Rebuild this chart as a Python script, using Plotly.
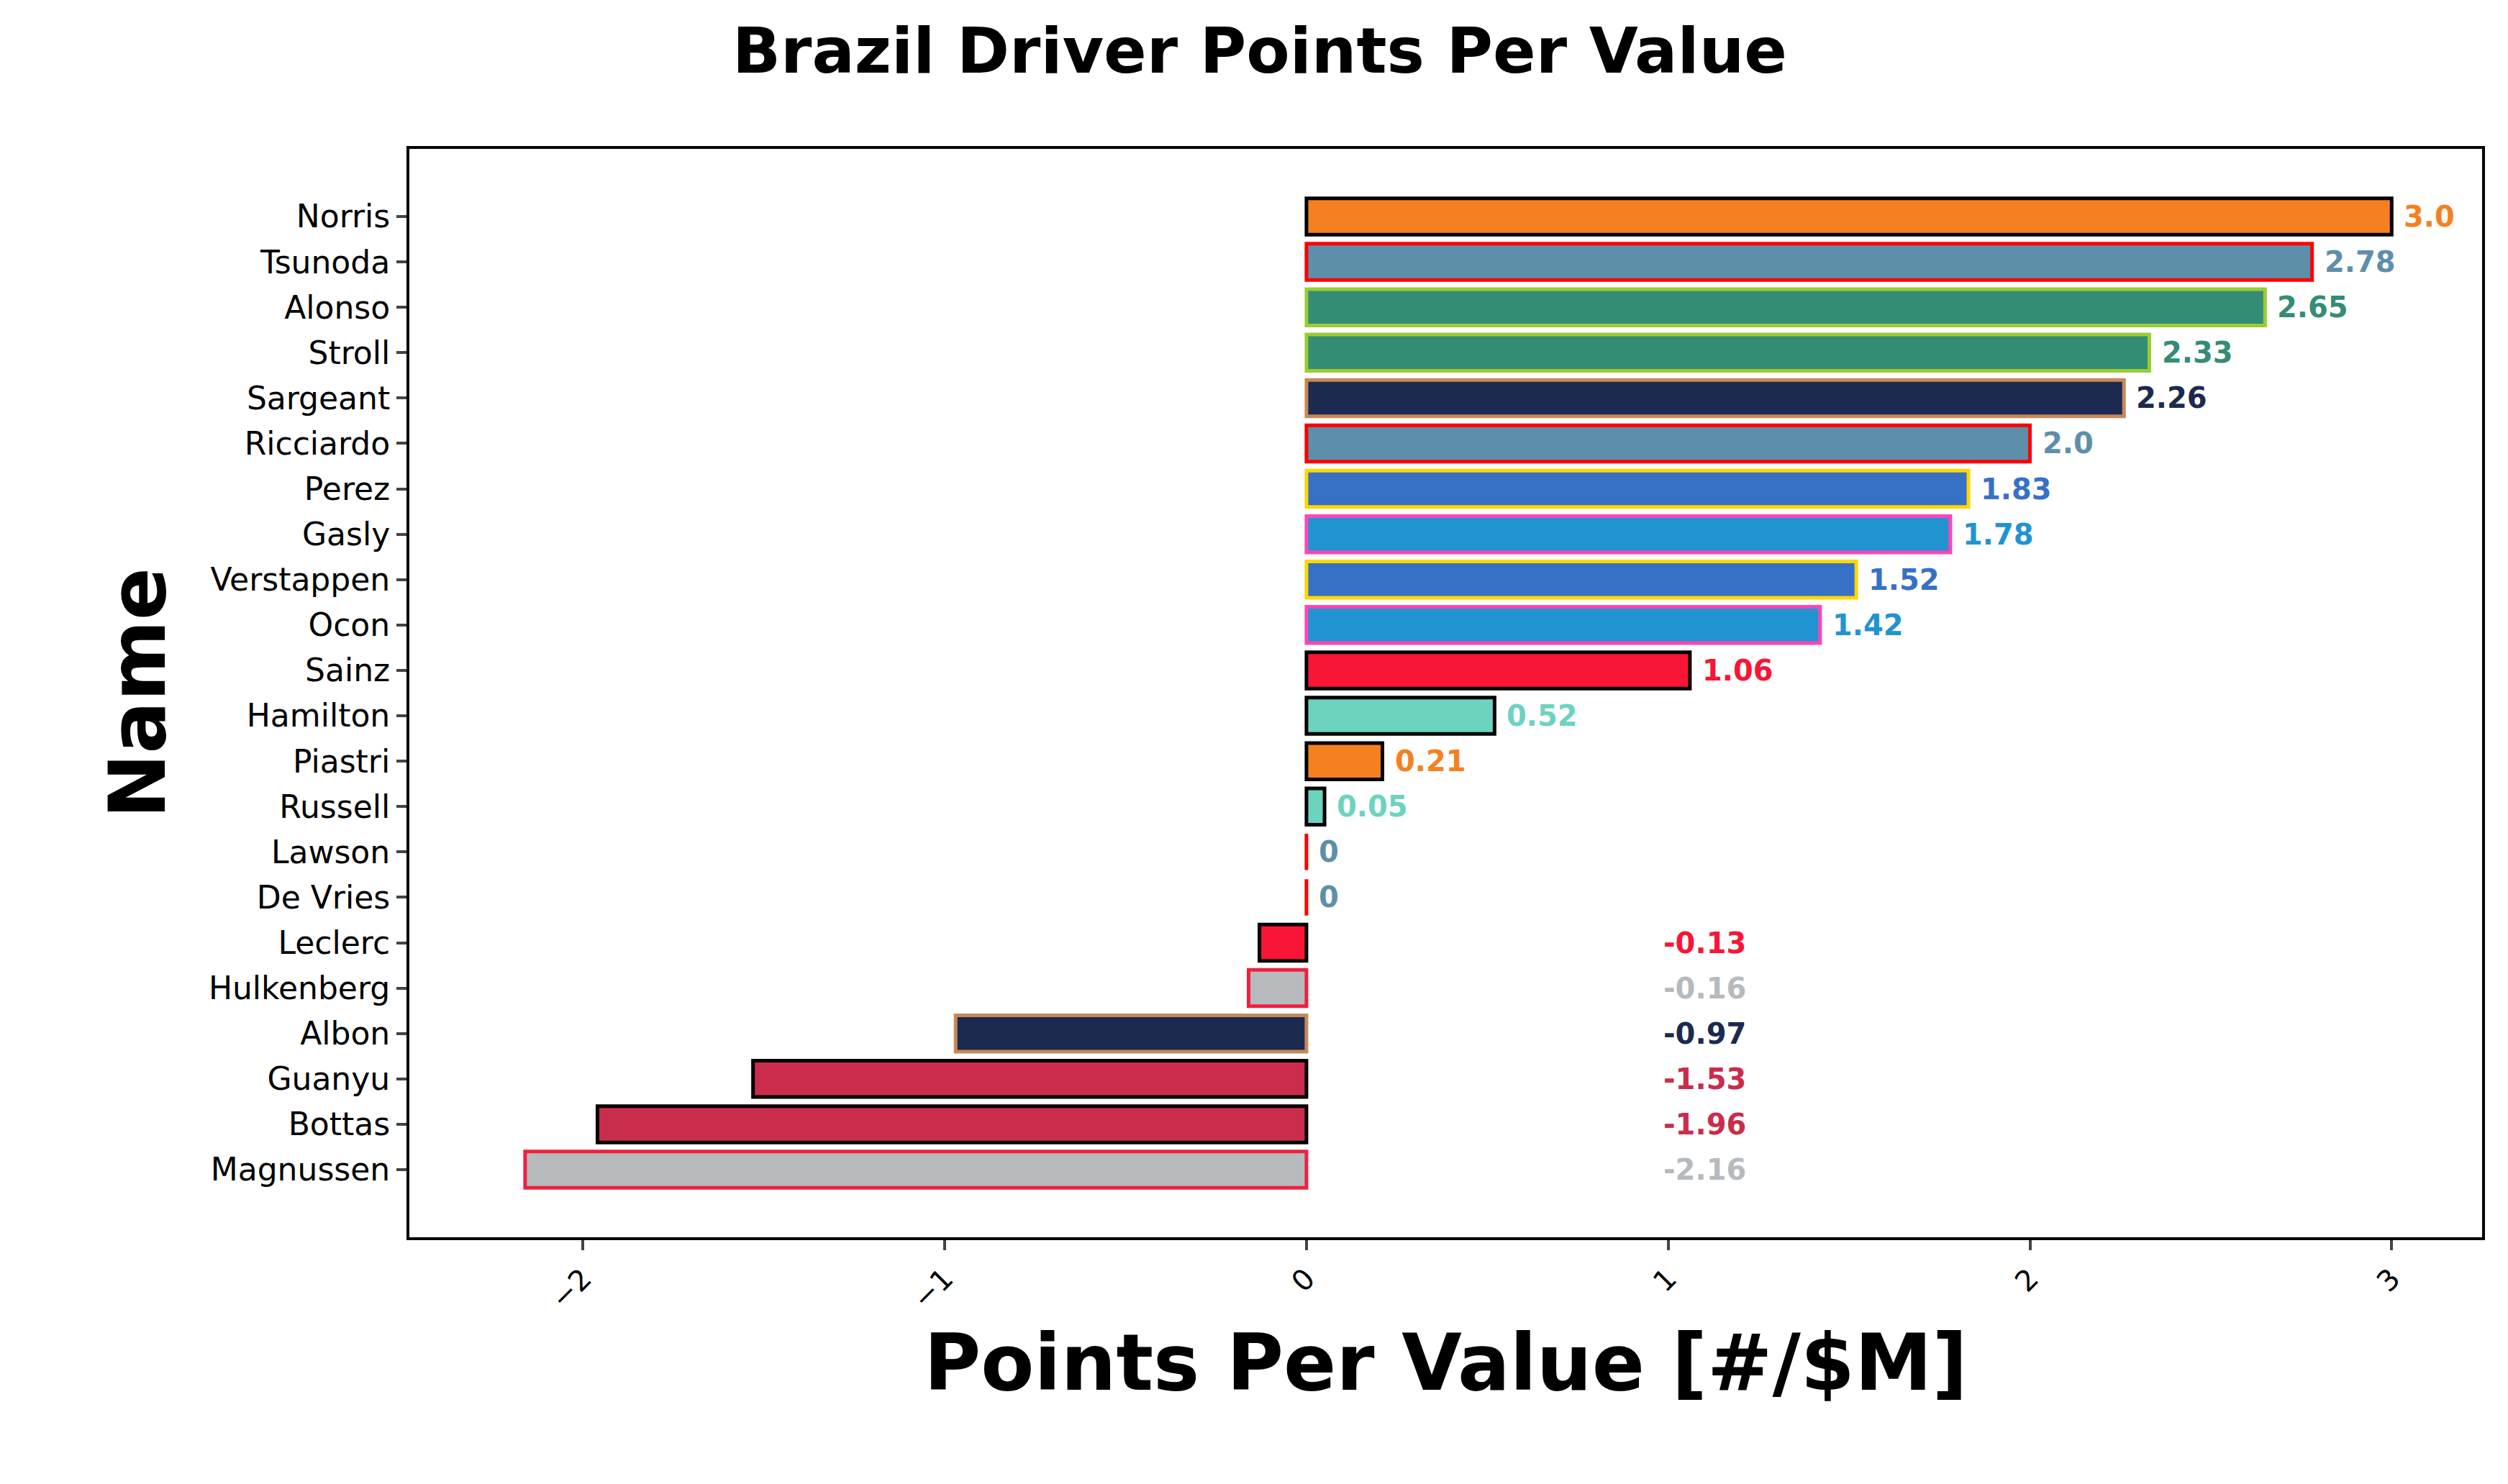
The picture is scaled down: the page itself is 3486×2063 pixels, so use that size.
import plotly.graph_objects as go

names = ["Norris", "Tsunoda", "Alonso", "Stroll", "Sargeant", "Ricciardo", "Perez", "Gasly",
         "Verstappen", "Ocon", "Sainz", "Hamilton", "Piastri", "Russell", "Lawson", "De Vries",
         "Leclerc", "Hulkenberg", "Albon", "Guanyu", "Bottas", "Magnussen"]
values = [3.0, 2.78, 2.65, 2.33, 2.26, 2.0, 1.83, 1.78, 1.52, 1.42, 1.06, 0.52, 0.21, 0.05,
          0, 0, -0.13, -0.16, -0.97, -1.53, -1.96, -2.16]
labels = ["3.0", "2.78", "2.65", "2.33", "2.26", "2.0", "1.83", "1.78", "1.52", "1.42", "1.06",
          "0.52", "0.21", "0.05", "0", "0", "-0.13", "-0.16", "-0.97", "-1.53", "-1.96", "-2.16"]
fills = ["#F58020", "#5E8FAA", "#358C75", "#358C75", "#1B2A4E", "#5E8FAA", "#3671C6", "#2293D1",
         "#3671C6", "#2293D1", "#F91536", "#6CD3BF", "#F58020", "#6CD3BF", "#5E8FAA", "#5E8FAA",
         "#F91536", "#B6BABD", "#1B2A4E", "#C92D4B", "#C92D4B", "#B6BABD"]
edges = ["black", "red", "#9ACD32", "#9ACD32", "#C68958", "red", "#FFD700", "#FF45B5",
         "#FFD700", "#FF45B5", "black", "black", "black", "black", "red", "red",
         "black", "#F0203F", "#C68958", "black", "black", "#F0203F"]

n = len(names)
ypos = [n - 1 - i for i in range(n)]

fig = go.Figure()
fig.add_trace(go.Bar(
    x=values, y=ypos, orientation="h", width=0.8,
    marker=dict(color=fills, line=dict(color=edges, width=5)),
))

# value labels: positives right of bar, negatives parked near x=1.1
for v, y, t, c in zip(values, ypos, labels, fills):
    if v >= 0:
        fig.add_annotation(x=v + 0.03, y=y, text=f"<b>{t}</b>", showarrow=False,
                           xanchor="left", font=dict(size=40, color=c))
    else:
        fig.add_annotation(x=1.1, y=y, text=f"<b>{t}</b>", showarrow=False,
                           xanchor="center", font=dict(size=40, color=c))

fig.update_layout(
    width=3486, height=2063,
    paper_bgcolor="white", plot_bgcolor="white",
    font=dict(family="DejaVu Sans", color="black"),
    showlegend=False,
    margin=dict(l=561, r=44, t=199, b=351),
    title=dict(text="<b>Brazil Driver Points Per Value</b>", x=0.5, xanchor="center",
               y=0.985, yanchor="top", font=dict(size=88)),
    xaxis=dict(range=[-2.48, 3.25], tickvals=[-2, -1, 0, 1, 2, 3], tickangle=-45,
               tickfont=dict(size=40), showgrid=False, zeroline=False,
               showline=True, mirror=True, linecolor="black", linewidth=4,
               ticks="outside", ticklen=14, tickwidth=4,
               title=dict(text="<b>Points Per Value [#/$M]</b>", font=dict(size=108), standoff=30)),
    yaxis=dict(range=[-1.49, n - 1 + 1.49], tickvals=ypos, ticktext=names,
               tickfont=dict(size=44), showgrid=False, zeroline=False,
               showline=True, mirror=True, linecolor="black", linewidth=4,
               ticks="outside", ticklen=14, tickwidth=4,
               title=dict(text="<b>Name</b>", font=dict(size=108), standoff=25)),
)

fig.write_html("out.html")
